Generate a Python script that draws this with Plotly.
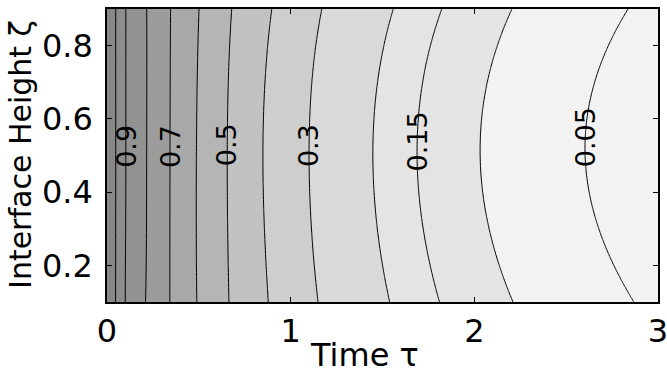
import numpy as np
import plotly.graph_objects as go

# contour levels (ascending) and where each contour line crosses sampled heights
levels = [0.05, 0.1, 0.15, 0.2, 0.3, 0.4, 0.5, 0.6, 0.7, 0.8, 0.9, 0.95]
y_samples = [0.1, 0.2, 0.3, 0.4, 0.5, 0.6, 0.7, 0.8, 0.9]
# time position of each contour line at the heights in y_samples
pos_005 = [2.871, 2.758, 2.680, 2.624, 2.603, 2.612, 2.655, 2.730, 2.838]
pos_010 = [2.210, 2.135, 2.080, 2.046, 2.031, 2.039, 2.070, 2.125, 2.204]
pos_015 = [1.810, 1.759, 1.721, 1.698, 1.688, 1.694, 1.718, 1.761, 1.822]
pos_020 = [1.539, 1.501, 1.471, 1.455, 1.448, 1.453, 1.473, 1.508, 1.559]
pos_030 = [1.149, 1.128, 1.113, 1.104, 1.100, 1.103, 1.115, 1.137, 1.169]
pos_040 = [0.878, 0.866, 0.857, 0.851, 0.849, 0.851, 0.860, 0.875, 0.897]
pos_050 = [0.664, 0.660, 0.657, 0.655, 0.655, 0.656, 0.660, 0.668, 0.679]
pos_060 = [0.489, 0.487, 0.486, 0.486, 0.487, 0.488, 0.491, 0.495, 0.501]
pos_070 = [0.342, 0.342, 0.342, 0.343, 0.343, 0.343, 0.344, 0.345, 0.346]
pos_080 = [0.210, 0.213, 0.215, 0.216, 0.216, 0.216, 0.217, 0.217, 0.216]
pos_090 = [0.099, 0.100, 0.101, 0.102, 0.102, 0.102, 0.102, 0.102, 0.102]
pos_095 = [0.047, 0.047, 0.048, 0.048, 0.048, 0.048, 0.048, 0.048, 0.048]
positions = [pos_005, pos_010, pos_015, pos_020, pos_030, pos_040,
             pos_050, pos_060, pos_070, pos_080, pos_090, pos_095]

# band fill greys: below 0.05, 0.05-0.1, ..., above 0.95
band_colors = ["#f2f2f2", "#f2f2f2", "#e4e4e4", "#e4e4e4", "#d9d9d9", "#cecece",
               "#c2c2c2", "#b5b5b5", "#a8a8a8", "#9c9c9c", "#929292", "#8d8d8d",
               "#878787"]

label_text = ["0.9", "0.7", "0.5", "0.3", "0.15", "0.05"]
label_x = [0.106, 0.343, 0.648, 1.097, 1.693, 2.605]
label_y = [0.525, 0.523, 0.528, 0.527, 0.538, 0.551]

x_ticks = [0, 1, 2, 3]
y_ticks = [0.2, 0.4, 0.6, 0.8]

# ---- build the grid the contour trace needs (level-index field) ----
n = len(levels)
x_grid = np.linspace(0, 3, 901)
y_grid = np.linspace(y_samples[0], y_samples[-1], 81)
# smooth each read contour across height (low-order least-squares fit)
smooth_pos = [np.polyval(np.polyfit(y_samples, p, 4), y_grid) for p in positions]
z = []
for j in range(len(y_grid)):
    xp = [0.0] + [smooth_pos[i][j] for i in range(n - 1, -1, -1)] + [3.0]
    fp = [n + 0.5] + [i + 1 for i in range(n - 1, -1, -1)] + [0.5]
    z.append(np.interp(x_grid, xp, fp))
z = np.array(z)

colorscale = [[k / n, c] for k, c in enumerate(band_colors)]

FONT = "DejaVu Sans"

fig = go.Figure()
fig.add_trace(go.Contour(
    x=x_grid, y=y_grid, z=z,
    autocontour=False,
    contours=dict(start=1, end=n, size=1, coloring="fill", showlabels=False),
    colorscale=colorscale, showscale=False,
    line=dict(color="black", width=1, smoothing=1),
    hoverinfo="skip",
))

for t, xx, yy in zip(label_text, label_x, label_y):
    fig.add_annotation(x=xx, y=yy, xref="x", yref="y", text=t, textangle=-90,
                       xanchor="center", yanchor="middle",
                       showarrow=False, font=dict(family=FONT, size=27, color="black"))

fig.add_annotation(xref="paper", yref="paper", x=0.468, y=-0.181, text="Time τ",
                   xanchor="center", yanchor="middle",
                   showarrow=False, font=dict(family=FONT, size=32, color="black"))
fig.add_annotation(xref="paper", yref="paper", x=-0.156, y=0.502,
                   text="Interface Height ζ", textangle=-90,
                   xanchor="center", yanchor="middle",
                   showarrow=False, font=dict(family=FONT, size=30, color="black"))

axis_common = dict(showline=True, linecolor="black", linewidth=1.5, mirror="ticks",
                   ticks="inside", ticklen=5, tickwidth=1, tickcolor="black",
                   showgrid=False, zeroline=False, automargin=False,
                   ticklabeloverflow="allow",
                   tickfont=dict(family=FONT, size=32, color="black"))
fig.update_xaxes(range=[0, 3], tickvals=x_ticks, ticktext=[str(v) for v in x_ticks],
                 **axis_common)
fig.update_yaxes(range=[0.1, 0.9], tickvals=y_ticks, ticktext=[f"{v:.1f}" for v in y_ticks],
                 ticklabelstandoff=6, **axis_common)

fig.update_layout(width=667, height=379, margin=dict(l=107, r=9, t=9, b=77),
                  paper_bgcolor="white", plot_bgcolor="white", showlegend=False)

fig.write_html("out.html")
